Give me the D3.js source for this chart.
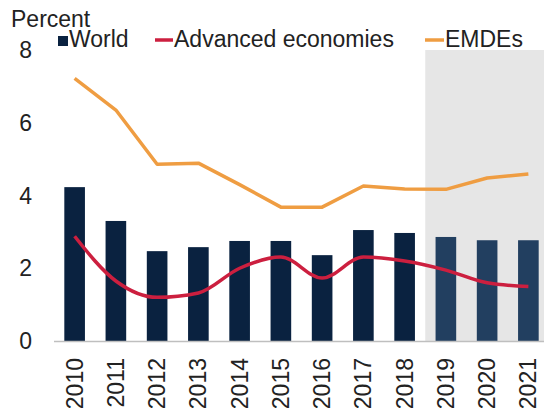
<!DOCTYPE html>
<html><head><meta charset="utf-8">
<script src="https://cdn.jsdelivr.net/npm/d3@7"></script>
<style>body{margin:0;background:#fff}svg{display:block;font-family:"Liberation Sans",Arial,sans-serif}</style>
</head><body><svg id="c" width="544" height="414"></svg>
<script>
const years = ["2010","2011","2012","2013","2014","2015","2016","2017","2018","2019","2020","2021"];
const forecastYears = ["2019","2020","2021"];
const world = [4.23, 3.3, 2.47, 2.58, 2.75, 2.75, 2.36, 3.05, 2.97, 2.86, 2.77, 2.77];
const advanced = [2.88, 1.65, 1.2, 1.32, 2.0, 2.31, 1.73, 2.31, 2.2, 1.95, 1.6, 1.5];
const emdes = [7.22, 6.35, 4.86, 4.89, 4.3, 3.68, 3.68, 4.26, 4.18, 4.17, 4.48, 4.59];
const yTicks = [0, 2, 4, 6, 8];
const seriesNames = ["World", "Advanced economies", "EMDEs"];

const svg = d3.select("#c");
const FS = 23;
const x = d3.scaleBand().domain(years).range([54, 549]).paddingInner(0.5).paddingOuter(0.25);
const y = d3.scaleLinear().domain([0, 8]).range([341, 50]);
const step = x.step();

// shaded forecast region
const fx0 = x(forecastYears[0]) - step * 0.25;
svg.append("rect").attr("x", fx0).attr("y", y(8)).attr("width", 544 - fx0).attr("height", y(0) - y(8)).attr("fill", "#e6e6e6");

// bars
svg.append("g").selectAll("rect").data(years).join("rect")
  .attr("x", d => x(d)).attr("width", x.bandwidth())
  .attr("y", (d, i) => y(world[i])).attr("height", (d, i) => y(0) - y(world[i]))
  .attr("fill", d => forecastYears.includes(d) ? "#223f60" : "#0a2240");

// axis line
svg.append("line").attr("x1", 54).attr("x2", 544).attr("y1", y(0) + 0.5).attr("y2", y(0) + 0.5)
  .attr("stroke", "#bfbfbf").attr("stroke-width", 1.5);

// lines
const lineLin = d3.line().x((d, i) => x(years[i]) + x.bandwidth() / 2).y(d => y(d));
const lineSm = d3.line().x((d, i) => x(years[i]) + x.bandwidth() / 2).y(d => y(d)).curve(d3.curveMonotoneX);
svg.append("path").datum(emdes).attr("d", lineLin).attr("fill", "none").attr("stroke", "#ef9d42").attr("stroke-width", 3.5).attr("stroke-linejoin", "round");
svg.append("path").datum(advanced).attr("d", lineSm).attr("fill", "none").attr("stroke", "#cc1f3f").attr("stroke-width", 3.5).attr("stroke-linejoin", "round");

// y labels
svg.append("g").selectAll("text").data(yTicks).join("text")
  .attr("x", 32).attr("y", d => y(d)).attr("dy", "0.35em").attr("text-anchor", "end")
  .attr("font-size", FS).attr("fill", "#222").text(d => d);

// x labels
svg.append("g").selectAll("text").data(years).join("text")
  .attr("transform", d => `translate(${x(d) + x.bandwidth() / 2 + 8},358) rotate(-90)`)
  .attr("text-anchor", "end").attr("font-size", FS).attr("fill", "#222").text(d => d);

// unit label
svg.append("text").attr("x", 11).attr("y", 27).attr("font-size", FS).attr("fill", "#222").text("Percent");

// legend
const lg = svg.append("g");
lg.append("rect").attr("x", 58).attr("y", 36).attr("width", 10).attr("height", 10).attr("fill", "#0a2240");
lg.append("text").attr("x", 69).attr("y", 47).attr("font-size", FS).attr("fill", "#222").text(seriesNames[0]);
lg.append("line").attr("x1", 155).attr("x2", 173).attr("y1", 40).attr("y2", 40).attr("stroke", "#cc1f3f").attr("stroke-width", 3.5);
lg.append("text").attr("x", 174).attr("y", 47).attr("font-size", FS).attr("fill", "#222").text(seriesNames[1]);
lg.append("line").attr("x1", 425).attr("x2", 444).attr("y1", 40).attr("y2", 40).attr("stroke", "#ef9d42").attr("stroke-width", 3.5);
lg.append("text").attr("x", 445).attr("y", 47).attr("font-size", FS).attr("fill", "#222").text(seriesNames[2]);
</script></body></html>
